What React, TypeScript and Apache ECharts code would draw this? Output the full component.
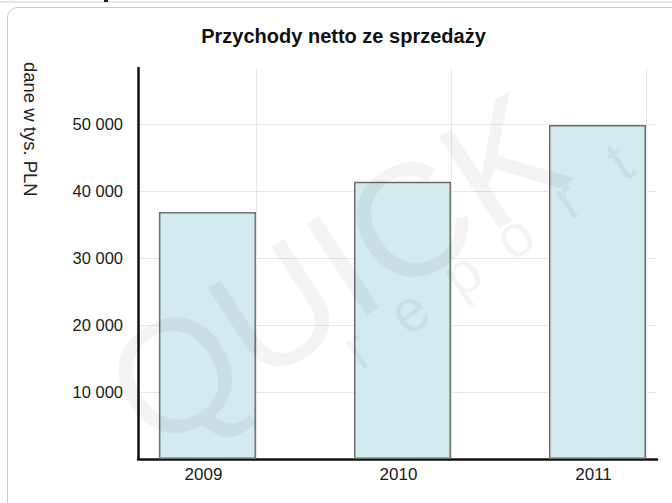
import React, { useEffect, useRef } from "react";
import * as echarts from "echarts";

const titleText = "Przychody netto ze sprzedaży";
const yAxisName = "dane w tys. PLN";
const categories = [2009, 2010, 2011];
const revenue = [36900, 41400, 49900];
const watermarkMain = "QUICK";
const watermarkSub = ["r", "e", "p", "o", "r", "t"];

const FONT = "'Liberation Sans', Arial, Helvetica, sans-serif";

export default function App() {
  const ref = useRef<HTMLDivElement>(null);
  useEffect(() => {
    const chart = echarts.init(ref.current!, null, { renderer: "svg" });
    const fmt = (v: number) => String(v).replace(/\B(?=(\d{3})+(?!\d))/g, " ");
    chart.setOption({
      animation: false,
      backgroundColor: "#ffffff",
      grid: { left: 138, right: 15, top: 68, bottom: 44 },
      xAxis: {
        type: "value",
        min: 2008.644,
        max: 2011.305,
        axisLine: { show: true, onZero: false, lineStyle: { color: "#111", width: 2.5 } },
        axisTick: { show: false, customValues: categories.map((c) => c + 0.25) },
        splitLine: { show: true, lineStyle: { color: "#e8e8e8", width: 1 } },
        axisLabel: {
          customValues: categories,
          formatter: (v: number) => String(v),
          fontSize: 17,
          color: "#1a1a1a",
          fontFamily: FONT,
          margin: 7,
          padding: [0, 8, 0, 0],
        },
      },
      yAxis: {
        type: "value",
        min: 0,
        max: 58400,
        interval: 10000,
        axisLine: { show: true, onZero: false, lineStyle: { color: "#111", width: 2.5 } },
        axisTick: { show: false },
        splitLine: { show: true, showMaxLine: false, lineStyle: { color: "#e8e8e8", width: 1 } },
        axisLabel: {
          showMinLabel: false,
          showMaxLabel: false,
          formatter: fmt,
          fontSize: 16.5,
          color: "#1a1a1a",
          fontFamily: FONT,
          margin: 15,
        },
      },
      series: [
        {
          type: "bar",
          data: categories.map((c, i) => [c, revenue[i]]),
          barWidth: 97,
          itemStyle: { color: "#d1ebee", borderColor: "#6e6e6e", borderWidth: 1.5 },
        },
      ],
      graphic: [
        { type: "line", shape: { x1: 0, y1: 2, x2: 672, y2: 2 }, style: { stroke: "#cfcfcf", lineWidth: 1 }, silent: true },
        { type: "rect", shape: { x: 104, y: 0, width: 4, height: 2 }, style: { fill: "#222" }, silent: true },
        {
          type: "rect",
          shape: { x: 7.5, y: 7.5, width: 720, height: 600, r: 10 },
          style: { fill: "none", stroke: "#c9c9c9", lineWidth: 1 },
          silent: true,
        },
        {
          type: "text",
          x: 343.5,
          y: 35.5,
          style: { text: titleText, fontSize: 20, fontWeight: "bold", fontFamily: FONT, fill: "#111", align: "center", verticalAlign: "middle" },
          silent: true,
        },
        {
          type: "text",
          x: 30,
          y: 62,
          rotation: -Math.PI / 2,
          style: { text: yAxisName, fontSize: 18.5, fontFamily: FONT, fill: "#222", align: "left", verticalAlign: "middle" },
          silent: true,
        },
        {
          type: "text",
          x: 335,
          y: 270,
          rotation: 0.58,
          z: 100,
          style: { text: watermarkMain, fontSize: 160, fontFamily: FONT, fill: "rgba(0,0,0,0.045)", align: "center", verticalAlign: "middle" },
          silent: true,
        },
        {
          type: "group",
          x: 488,
          y: 255,
          rotation: 0.62,
          z: 100,
          silent: true,
          children: watermarkSub.map((ch, i) => ({
            type: "text",
            x: (i - 2.5) * 64.5,
            y: 0,
            z: 100,
            style: { text: ch, fontSize: 60, fontFamily: FONT, fill: "rgba(0,0,0,0.045)", align: "center", verticalAlign: "middle" },
          })),
        },
      ],
    });
    return () => chart.dispose();
  }, []);
  return <div ref={ref} style={{ position: "absolute", left: 0, top: 0, width: 672, height: 503 }} />;
}
